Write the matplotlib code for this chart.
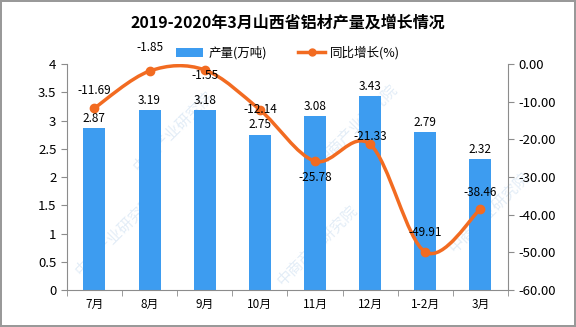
import matplotlib
matplotlib.use('Agg')
import matplotlib.pyplot as plt
import numpy as np
from matplotlib.path import Path
from matplotlib.patches import PathPatch

plt.rcParams['font.family'] = ['Noto Sans CJK SC', 'DejaVu Sans']

months = ['7月', '8月', '9月', '10月', '11月', '12月', '1-2月', '3月']
output = [2.87, 3.19, 3.18, 2.75, 3.08, 3.43, 2.79, 2.32]
growth = [-11.69, -1.85, -1.55, -12.14, -25.78, -21.33, -49.91, -38.46]
# label offsets for the growth labels (points, + is up)
growth_off = [13, 17, -4, 0, -12, 6, 14, 12]

bar_color = '#3d9cf0'
line_color = '#f26b21'
axis_color = '#8c8c8c'

fig = plt.figure(figsize=(5.76, 3.27), dpi=100)
fig.patch.set_edgecolor('#999999')
fig.patch.set_linewidth(1.5)
ax = fig.add_axes([0.116, 0.113, 0.766, 0.691])
ax.patch.set_visible(False)
x = np.arange(len(months))

bars = ax.bar(x, output, width=0.4, color=bar_color, zorder=2, label='产量(万吨)')
for xi, v in zip(x, output):
    ax.annotate(f'{v:.2f}', (xi, v), xytext=(0, 7), textcoords='offset points',
                ha='center', va='center', fontsize=8.5, zorder=5)

ax.set_xlim(-0.5, len(months) - 0.5)
ax.set_ylim(0, 4)
ax.set_yticks(np.arange(0, 4.01, 0.5))
ax.set_yticklabels(['0', '0.5', '1', '1.5', '2', '2.5', '3', '3.5', '4'])
ax.set_xticks(x)
ax.set_xticklabels(months)
ax.set_xticks(np.arange(-0.5, len(months), 1), minor=True)
ax.tick_params(axis='x', which='major', length=0, pad=6, labelsize=8.5)
ax.tick_params(axis='x', which='minor', length=4, color=axis_color, direction='out')
ax.tick_params(axis='y', length=4, color=axis_color, labelsize=9.5)
for s in ['top', 'right']:
    ax.spines[s].set_visible(False)
for s in ['left', 'bottom']:
    ax.spines[s].set_color(axis_color)

ax2 = ax.twinx()
ax2.patch.set_visible(False)
ax2.set_ylim(-60, 0)
ax2.set_yticks(np.arange(-60, 0.1, 10))
ax2.set_yticklabels([f'{t:.2f}' for t in np.arange(-60, 0.1, 10)])
ax2.tick_params(axis='y', length=4, color=axis_color, labelsize=9.5)
for s in ['top', 'left', 'bottom']:
    ax2.spines[s].set_visible(False)
ax2.spines['right'].set_color(axis_color)

# smooth line through the points (cubic bezier segments)
pts = np.column_stack([x, growth]).astype(float)
verts = [tuple(pts[0])]
codes = [Path.MOVETO]
n = len(pts)
for i in range(n - 1):
    p0 = pts[i - 1] if i > 0 else pts[i]
    p1 = pts[i]
    p2 = pts[i + 1]
    p3 = pts[i + 2] if i + 2 < n else pts[i + 1]
    c1 = p1 + (p2 - p0) / 6
    c2 = p2 - (p3 - p1) / 6
    verts += [tuple(c1), tuple(c2), tuple(p2)]
    codes += [Path.CURVE4] * 3
ax2.add_patch(PathPatch(Path(verts, codes), facecolor='none', edgecolor=line_color,
                        lw=2.5, zorder=3))
ax2.plot(x, growth, 'o', color=line_color, ms=6, zorder=4)
for xi, v, off in zip(x, growth, growth_off):
    ax2.annotate(f'{v:.2f}', (xi, v), xytext=(0, off), textcoords='offset points',
                 ha='center', va='center', fontsize=8.5, zorder=5)

# legend
line_handle = plt.Line2D([], [], color=line_color, lw=2.5, marker='o', ms=5)
fig.legend([bars, line_handle], ['产量(万吨)', '同比增长(%)'], loc='center',
           bbox_to_anchor=(0.5, 0.838), ncol=2, frameon=False, fontsize=9,
           handlelength=2.2, columnspacing=2.5, handletextpad=0.4)

fig.text(0.5, 0.93, '2019-2020年3月山西省铝材产量及增长情况', ha='center', va='center',
         fontsize=11.5, fontweight='bold')

# faint watermark behind everything
for wx, wy in [(0.3, 0.6), (0.62, 0.62), (0.2, 0.28), (0.55, 0.25), (0.85, 0.35)]:
    fig.text(wx, wy, '中商产业研究院', rotation=45, ha='center', va='center',
             fontsize=11, color='#e3edf7', zorder=-1)

fig.savefig('out.png', dpi=100)
